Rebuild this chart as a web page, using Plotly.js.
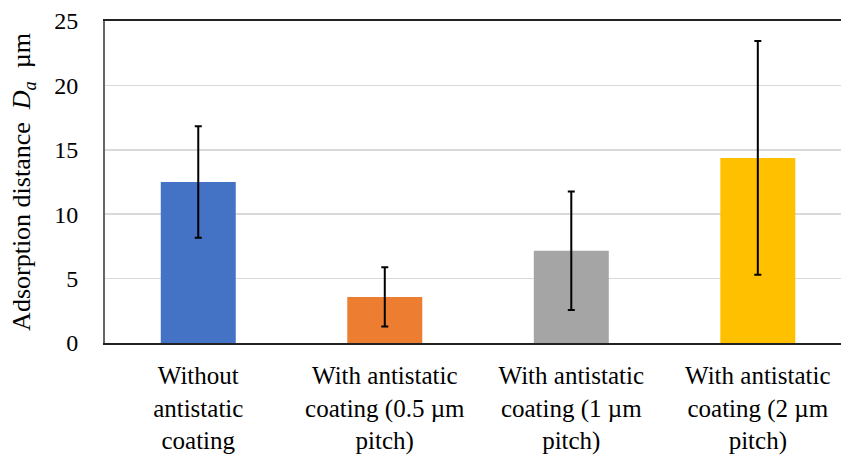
<!DOCTYPE html>
<html>
<head>
<meta charset="utf-8">
<script src="https://cdn.plot.ly/plotly-3.0.1.min.js"></script>
<style>
html,body{margin:0;padding:0;background:#fff;}
#chart{width:842px;height:459px;}
</style>
</head>
<body>
<div id="chart"></div>
<script>
const categories = ["Without<br>antistatic<br>coating", "With antistatic<br>coating (0.5 µm<br>pitch)", "With antistatic<br>coating (1 µm<br>pitch)", "With antistatic<br>coating (2 µm<br>pitch)"];
const values = [12.5, 3.58, 7.17, 14.37];
const errors = [4.32, 2.3, 4.6, 9.08];
const colors = ["#4472C4", "#ED7D31", "#A5A5A5", "#FFC000"];
const yTicks = [0, 5, 10, 15, 20, 25];

const idx = categories.map((c, i) => i);
const trace = {
  type: "bar",
  x: idx,
  y: values,
  width: 0.402,
  marker: {color: colors},
  error_y: {type: "data", array: errors, visible: true, color: "#000", thickness: 2, width: 3.5},
  hoverinfo: "none"
};
const fam = "Liberation Serif, Times New Roman, serif";
const layout = {
  width: 842, height: 459,
  margin: {l: 105, r: 1, t: 21, b: 116},
  paper_bgcolor: "#fff", plot_bgcolor: "#fff",
  font: {family: fam, size: 24, color: "#000"},
  showlegend: false,
  xaxis: {
    range: [-0.5, 3.446],
    tickvals: idx, ticktext: categories,
    showline: true, linecolor: "#222", linewidth: 2, mirror: true,
    ticks: "", showgrid: false, zeroline: false,
    tickfont: {family: fam, size: 25, color: "#000"}, ticklabelstandoff: 9,
    fixedrange: true
  },
  yaxis: {
    range: [0, 25], tickvals: yTicks,
    showline: true, linecolor: "#666", linewidth: 2,
    showgrid: true, gridcolor: "#D9D9D9", gridwidth: 1.5, zeroline: false,
    ticks: "", tickfont: {family: fam, size: 24, color: "#000"}, ticklabelstandoff: 20,
    title: {text: "Adsorption distance&nbsp;&nbsp;<i>D</i><sub><i>a</i></sub>&nbsp;&nbsp;µm", font: {family: fam, size: 26, color: "#000"}, standoff: 16},
    fixedrange: true
  }
};
Plotly.newPlot("chart", [trace], layout, {displayModeBar: false, staticPlot: true});
</script>
</body>
</html>
